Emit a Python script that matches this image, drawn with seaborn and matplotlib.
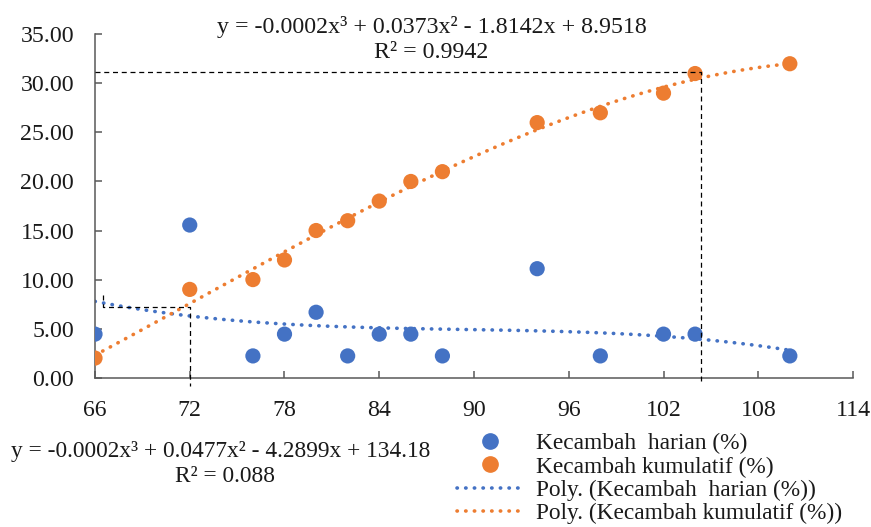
import numpy as np
import pandas as pd
import seaborn as sns
import matplotlib.pyplot as plt
from matplotlib.lines import Line2D

# Data
hari = [66, 72, 76, 78, 80, 82, 84, 86, 88, 94, 98, 102, 104, 110]
harian = [4.44, 15.56, 2.22, 4.44, 6.67, 2.22, 4.44, 4.44, 2.22, 11.11, 2.22, 4.44, 4.44, 2.22]
kumulatif = [2, 9, 10, 12, 15, 16, 18, 20, 21, 26, 27, 29, 31, 32]

# dashed guide lines (x, y)
guide_top_x = [66, 104.4, 104.4]
guide_top_y = [31.2, 31.2, -0.4]
guide_low_x = [66.5, 66.5, 72, 72]
guide_low_y = [8.4, 7.2, 7.2, -0.8]

eq_kum = "y = -0.0002x³ + 0.0373x² - 1.8142x + 8.9518"
r2_kum = "R² = 0.9942"
eq_har = "y = -0.0002x³ + 0.0477x² - 4.2899x + 134.18"
r2_har = "R² = 0.088"

lab_har = "Kecambah  harian (%)"
lab_kum = "Kecambah kumulatif (%)"

df = pd.DataFrame({"hari": hari, "harian": harian, "kumulatif": kumulatif})

sns.set_theme(style="white")
plt.rcParams['font.family'] = ['Liberation Serif', 'DejaVu Serif']
plt.rcParams['text.color'] = '#1a1a1a'

blue = "#4472C4"
orange = "#ED7D31"
fs = 17.2
dots = (0, (0.1, 2.3))
lw_trend = 2.6

fig = plt.figure(figsize=(8.71, 5.27), dpi=100)
ax = fig.add_axes([95 / 871, 1 - 377.7 / 527, (853 - 95) / 871, (377.7 - 34.3) / 527])

# polynomial trend lines (order 3)
sns.regplot(data=df, x="hari", y="harian", order=3, ci=None, scatter=False, ax=ax,
            line_kws=dict(color=blue, lw=lw_trend, ls=dots, dash_capstyle="round", zorder=2))
sns.regplot(data=df, x="hari", y="kumulatif", order=3, ci=None, scatter=False, ax=ax,
            line_kws=dict(color=orange, lw=lw_trend, ls=dots, dash_capstyle="round", zorder=2))

sns.scatterplot(data=df, x="hari", y="harian", color=blue, s=120, edgecolor="none", ax=ax, zorder=3)
sns.scatterplot(data=df, x="hari", y="kumulatif", color=orange, s=120, edgecolor="none", ax=ax, zorder=3)

ax.plot(guide_top_x, guide_top_y, color="black", lw=0.9, ls=(0, (4, 3)), clip_on=False, zorder=4)
ax.plot(guide_low_x, guide_low_y, color="black", lw=0.9, ls=(0, (4, 3)), clip_on=False, zorder=4)

ax.set_xlim(66, 114)
ax.set_ylim(0, 35)
ax.set_xticks(np.arange(66, 115, 6))
ax.set_yticks(np.arange(0, 36, 5))
ax.set_yticklabels([f"{v:.2f}" for v in np.arange(0, 36, 5)])
ax.set_xlabel("")
ax.set_ylabel("")

for s in ["top", "right"]:
    ax.spines[s].set_visible(False)
for s in ["left", "bottom"]:
    ax.spines[s].set_color("#595959")
    ax.spines[s].set_linewidth(1.1)
ax.tick_params(axis="both", direction="in", length=5, width=1.1, color="#595959",
               labelsize=fs, labelcolor="#1a1a1a")
ax.tick_params(axis="y", pad=15, left=True)
ax.tick_params(axis="x", pad=16, bottom=True)

fig.text(432 / 871, 1 - 27 / 527, eq_kum, ha="center", va="center", fontsize=fs)
fig.text(431 / 871, 1 - 52 / 527, r2_kum, ha="center", va="center", fontsize=fs)
fig.text(221 / 871, 1 - 452 / 527, eq_har, ha="center", va="center", fontsize=16.8)
fig.text(225 / 871, 1 - 477 / 527, r2_har, ha="center", va="center", fontsize=16.8)

handles = [
    Line2D([], [], ls="none", marker="o", ms=11, color=blue),
    Line2D([], [], ls="none", marker="o", ms=11, color=orange),
    Line2D([], [], color=blue, lw=lw_trend, ls=dots, dash_capstyle="round"),
    Line2D([], [], color=orange, lw=lw_trend, ls=dots, dash_capstyle="round"),
]
labels = [lab_har, lab_kum, "Poly. (" + lab_har + ")", "Poly. (" + lab_kum + ")"]
fig.legend(handles, labels, loc="upper left", bbox_to_anchor=(457 / 871, 1 - 433 / 527),
           frameon=False, fontsize=16.8, handlelength=2.85, handletextpad=0.55,
           labelspacing=0.08, borderpad=0, borderaxespad=0)

fig.savefig("out.png", dpi=100)
